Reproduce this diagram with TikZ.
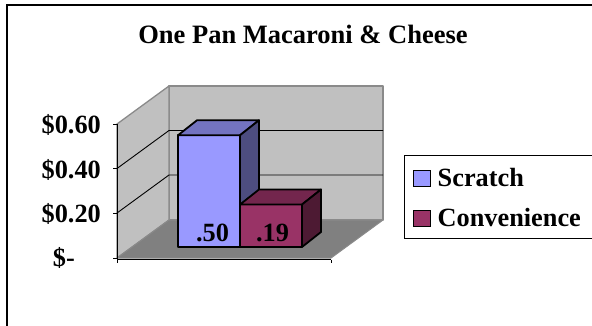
\documentclass[tikz,border=0pt]{standalone}
\usepackage{fontspec}
\setmainfont{Liberation Serif}
\definecolor{wallgray}{HTML}{C0C0C0}
\definecolor{floorgray}{HTML}{808080}
\definecolor{edgegray}{HTML}{8A8A8A}
\definecolor{scrF}{HTML}{9999FF}
\definecolor{scrT}{HTML}{7373C0}
\definecolor{scrS}{HTML}{4D4D80}
\definecolor{conF}{HTML}{993366}
\definecolor{conT}{HTML}{73264D}
\definecolor{conS}{HTML}{4D1A33}
\begin{document}
\begin{tikzpicture}[x=1pt,y=-1pt,
  wall/.style={fill=wallgray,draw=edgegray,line width=1.3pt,line join=round},
  floorface/.style={fill=floorgray,draw=edgegray,line width=1pt,line join=round},
  gridline/.style={black,line width=0.9pt},
  axisline/.style={black,line width=1pt},
  barface/.style={draw=black,line width=1.8pt,line join=round},
  txt/.style={font=\fontsize{26.3}{28}\selectfont\bfseries,inner sep=0pt},
  key/.style={draw=black,line width=1.6pt,minimum width=17pt,minimum height=16pt,inner sep=0pt}]
\useasboundingbox (0,0) rectangle (592,325);
\fill[white] (0,0) rectangle (592,325);
% outer frame
\draw[black,line width=1.5pt] (7,330) -- (7,5) -- (600,5);
% title
\node[txt,anchor=base,font=\fontsize{26.5}{28}\selectfont\bfseries] (title) at (303,43) {One Pan Macaroni \& Cheese};
% walls and floor
\draw[wall] (169,86) rectangle (383,220);
\draw[wall] (117,258) -- (117,124) -- (169,86) -- (169,220) -- cycle;
\draw[floorface] (117,258) -- (169,220) -- (383,220) -- (331,258) -- cycle;
% gridlines
\draw[gridline] (117,213) -- (169,175) -- (383,175);
\draw[gridline] (117,168.5) -- (169,130.5) -- (383,130.5);
% axes and ticks
\draw[axisline] (117,124) -- (117,259.5) -- (331,259.5);
\foreach \yy in {124,168.5,213,258}{\draw[axisline] (113,\yy) -- (117,\yy);}
\draw[axisline] (117,259.5) -- (117,263);
\draw[axisline] (331,259.5) -- (331,263);
% axis labels
\node[txt,anchor=base east] (v60) at (101,133) {\$0.60};
\node[txt,anchor=base east] (v40) at (101,178) {\$0.40};
\node[txt,anchor=base east] (v20) at (101,222.5) {\$0.20};
\node[txt,anchor=base east] (v00) at (75,266.5) {\$-};
% Scratch bar
\draw[barface,fill=scrF] (178,247) rectangle (240,135.25);
\draw[barface,fill=scrT] (178,135.25) -- (197,120.25) -- (259,120.25) -- (240,135.25) -- cycle;
\draw[barface,fill=scrS] (240,247) -- (259,232) -- (259,120.25) -- (240,135.25) -- cycle;
% Convenience bar
\draw[barface,fill=conF] (240,247) rectangle (302,204.5);
\draw[barface,fill=conT] (240,204.5) -- (259,189.5) -- (321,189.5) -- (302,204.5) -- cycle;
\draw[barface,fill=conS] (302,247) -- (321,232) -- (321,189.5) -- (302,204.5) -- cycle;
% value labels
\node[txt,anchor=base] (d50) at (212.5,241) {.50};
\node[txt,anchor=base] (d19) at (272.5,241) {.19};
% legend
\draw[black,line width=1pt] (600,155) -- (404,155) -- (404,238) -- (600,238);
\node[key,fill=scrF] (k1) at (422,178.5) {};
\node[key,fill=conF] (k2) at (422,218.5) {};
\node[txt,anchor=base west] (l1) at (437.5,186.5) {Scratch};
\node[txt,anchor=base west] (l2) at (437.5,226.5) {Convenience};
\end{tikzpicture}
\end{document}
